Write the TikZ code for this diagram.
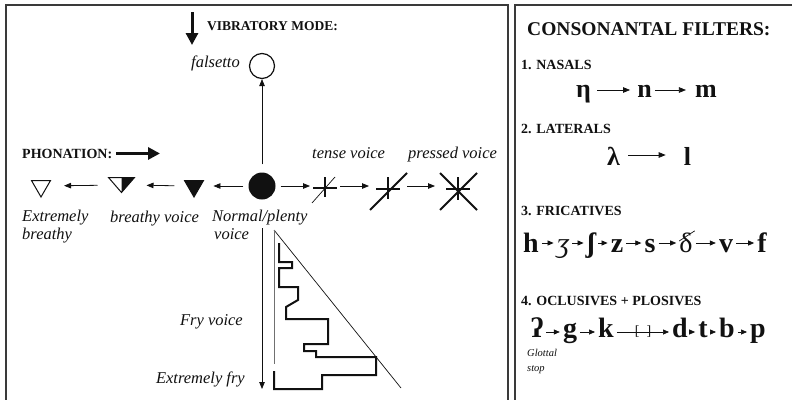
\documentclass[tikz,border=0pt]{standalone}
\usepackage{fontspec}
\setmainfont{Liberation Serif}
\usetikzlibrary{arrows.meta, positioning, calc, shapes.geometric}
\definecolor{ink}{HTML}{111111}
\definecolor{frame}{HTML}{3A3A3A}
\definecolor{stemgray}{HTML}{707070}

\begin{document}
\begin{tikzpicture}[x=1pt, y=-1pt,
  >={Triangle[length=7pt, width=5.5pt]},
  arr/.style={->, line width=0.8pt, ink, shorten <=5pt, shorten >=5pt},
  tiny/.style={-{Triangle[length=6pt, width=5pt]}, line width=0.7pt, ink, shorten <=3pt, shorten >=3pt},
  fat/.style={-{Triangle[length=12pt, width=12pt]}, line width=3pt, ink},
  lbl/.style={font=\fontsize{16.5}{17.5}\selectfont\itshape, text=ink, inner sep=0pt, align=left},
  hdr/.style={font=\fontsize{14}{16}\selectfont\bfseries, text=ink, inner sep=0pt, anchor=base west},
  tri/.style={regular polygon, regular polygon sides=3, shape border rotate=180,
    minimum size=22pt, inner sep=0pt, draw=ink, line width=1pt},
  dot/.style={circle, minimum size=#1, inner sep=0pt},
  sym/.style={rectangle, minimum size=#1, inner sep=0pt, outer sep=0pt},
  bar/.style={line width=2pt, ink},
  hair/.style={line width=0.7pt, ink},
  nasal/.style={font=\fontsize{26}{28}\selectfont\bfseries, text=ink, inner sep=0pt,
    text height=18pt, text depth=4pt, anchor=base},
  lateral/.style={nasal, text height=24pt},
  fric/.style={font=\fontsize{28}{30}\selectfont\bfseries, text=ink, inner sep=0pt,
    text height=22pt, text depth=4pt, anchor=base},
  plos/.style={fric, text height=16pt, text depth=6pt},
]

\useasboundingbox (0,0) rectangle (792,399);
\fill[white] (0,0) rectangle (792,399);

% Panels
\draw[frame, line width=1.5pt] (6,5) rectangle (508,410);
\draw[frame, line width=1.5pt] (515,5) rectangle (800,410);

% =============================================
% Left panel: vibratory mode
% =============================================

\coordinate (vibtop) at (192,12);
\coordinate (vibtip) at (192,45);
\draw[fat] (vibtop) -- (vibtip);
\node[hdr, font=\fontsize{13.5}{16}\selectfont\bfseries] (vib) at (207,30) {VIBRATORY MODE:};

\node[dot=25pt, draw=ink, line width=1.2pt] (falsetto) at (262,66) {};
\node[lbl, anchor=base east] (falsettolbl) at (240,67) {falsetto};

% =============================================
% Left panel: phonation row
% =============================================

\node[hdr] (phon) at (22,158) {PHONATION:};
\coordinate (phonend) at (160,153);
\draw[fat] ([xshift=4pt]phon.east) -- (phon.east -| phonend);

\node[tri, outer sep=10pt] (xbreathy) at (41,186) {};
\node[sym=15pt, minimum width=26pt] (half) at (121.5,185) {};
\draw[ink, line width=1pt, line join=miter] (half.north west) -- (half.north east) -- (half.south) -- cycle;
\fill[ink] (half.north) -- (half.north east) -- (half.south) -- cycle;
\node[tri, fill=ink, outer sep=7pt] (breathy) at (194,186) {};
\node[dot=27pt, fill=ink] (normal) at (262,186) {};
\node[sym=20pt] (tense) at (325,186) {};
\node[sym=28pt] (strained) at (388,186) {};
\node[sym=36pt] (pressed) at (458,186) {};

% tense voice
\draw[bar] ($(tense)+(-12,2)$) -- ($(tense)+(12,2)$)
  ($(tense)+(0,-9)$) -- ($(tense)+(0,11)$);
\draw[hair] ($(tense)+(-13,17)$) -- ($(tense)+(10,-9)$);
% in between
\draw[bar] ($(strained)+(-12,3)$) -- ($(strained)+(12,3)$)
  ($(strained)+(0,-9)$) -- ($(strained)+(0,13)$);
\draw[bar] ($(strained)+(-18,24)$) -- ($(strained)+(19,-13)$);
% pressed voice
\draw[bar] ($(pressed)+(-12,3)$) -- ($(pressed)+(12,3)$)
  ($(pressed)+(0,-9)$) -- ($(pressed)+(0,14)$);
\draw[bar] ($(pressed)+(-18,-13)$) -- ($(pressed)+(19,24)$)
  ($(pressed)+(-18,24)$) -- ($(pressed)+(19,-13)$);

\draw[arr, shorten <=11pt] (half) -- (xbreathy);
\draw[arr, shorten >=12pt] (breathy) -- (half);
\draw[arr] (normal) -- (breathy);
\draw[arr] (normal) -- (tense);
\draw[arr] (tense) -- (strained);
\draw[arr] (strained) -- (pressed);
\draw[arr, line width=0.7pt, shorten >=0pt, shorten <=8pt] (normal) -- (falsetto);

\node[lbl, anchor=north west] (xbreathylbl) at (22,210) {Extremely\\breathy};
\node[lbl, anchor=base west] (breathylbl) at (110,222) {breathy voice};
\node[lbl, anchor=north west] (normallbl) at (212,210) {Normal/plenty\\\hspace*{2pt}voice};
\node[lbl, anchor=base west] (tenselbl) at (312,158) {tense voice};
\node[lbl, anchor=base west] (pressedlbl) at (408,158) {pressed voice};

% =============================================
% Left panel: fry
% =============================================

\coordinate (frytop) at (262,228);
\coordinate (frybot) at (262,389);
\draw[->, line width=0.8pt, ink] (frytop) -- (frybot);

\coordinate (apex) at (274,230);
\draw[hair] (apex) -- (401,388);
\draw[line width=1pt, stemgray] (apex) -- (274,364);
\draw[line width=2pt, ink] (279,243) -- (279,262) -- (292,262) -- (292,268) -- (279,268)
  -- (279,287) -- (298,287) -- (298,300) -- (286,307) -- (286,319) -- (328,319)
  -- (328,344) -- (304,344) -- (304,351) -- (316,351) -- (316,357) -- (376,357)
  -- (376,375) -- (322,375) -- (322,389) -- (274,389) -- (274,371);

\node[lbl, anchor=base east] (frylbl) at (243,325) {Fry voice};
\node[lbl, anchor=base east] (xfrylbl) at (245,383) {Extremely fry};

% =============================================
% Right panel: consonantal filters
% =============================================

\node[hdr, font=\fontsize{19.5}{22}\selectfont\bfseries] (title) at (527,35) {CONSONANTAL FILTERS:};

% 1. nasals
\node[hdr] (nasals) at (521,69) {1. NASALS};
\node[nasal] (eta) at (583.5,97) {η};
\node[nasal] (n) at (644.5,97) {n};
\node[nasal] (m) at (706,97) {m};
\draw[arr, line width=0.7pt, shorten <=6pt, shorten >=7pt] (eta) -- (n);
\draw[arr, line width=0.7pt, shorten <=3pt, shorten >=9pt] (n) -- (m);

% 2. laterals
\node[hdr] (laterals) at (521,133) {2. LATERALS};
\node[lateral] (lambda) at (613.5,165) {λ};
\node[lateral] (l) at (687.5,165) {l};
\draw[arr, line width=0.7pt, shorten <=8pt, shorten >=18pt] (lambda) -- (l);

% 3. fricatives
\node[hdr] (fricatives) at (521,215) {3. FRICATIVES};
\node[fric] (h) at (531,252) {h};
\node[fric, font=\fontsize{28}{30}\selectfont\itshape] (zh) at (563,252) {ʒ};
\node[fric] (sh) at (591,252) {ʃ};
\node[fric] (z) at (617,252) {z};
\node[fric] (s) at (650,252) {s};
\node[fric, font=\fontsize{28}{30}\selectfont] (eth) at (686,252) {δ};
\node[fric] (v) at (726,252) {v};
\node[fric] (f) at (762,252) {f};
\draw[hair] ([yshift=2pt]eth.west) -- ([xshift=2pt, yshift=-1pt]eth.north east);
\foreach \a/\b in {h/zh, zh/sh, sh/z, z/s, s/eth, eth/v, v/f}
  \draw[tiny] (\a) -- (\b);

% 4. oclusives + plosives
\node[hdr] (plosives) at (521,305) {4. OCLUSIVES + PLOSIVES};
\node[plos] (glottal) at (537,337) {ʔ};
\node[plos] (g) at (570,337) {g};
\node[plos] (k) at (606,337) {k};
\node[plos] (d) at (680,337) {d};
\node[plos] (t) at (703,337) {t};
\node[plos] (b) at (727,337) {b};
\node[plos] (p) at (758,337) {p};
\foreach \a/\b in {glottal/g, g/k, d/t, t/b, b/p}
  \draw[tiny] (\a) -- (\b);
\draw[tiny] (k) -- (d)
  node[midway, font=\fontsize{14}{14}\selectfont, inner sep=0pt, text=ink] {[\,\,\,]};

\node[lbl, anchor=north west, font=\fontsize{10.5}{15}\selectfont\itshape] (glottallbl)
  at (527,349) {Glottal\\stop};

\end{tikzpicture}
\end{document}
